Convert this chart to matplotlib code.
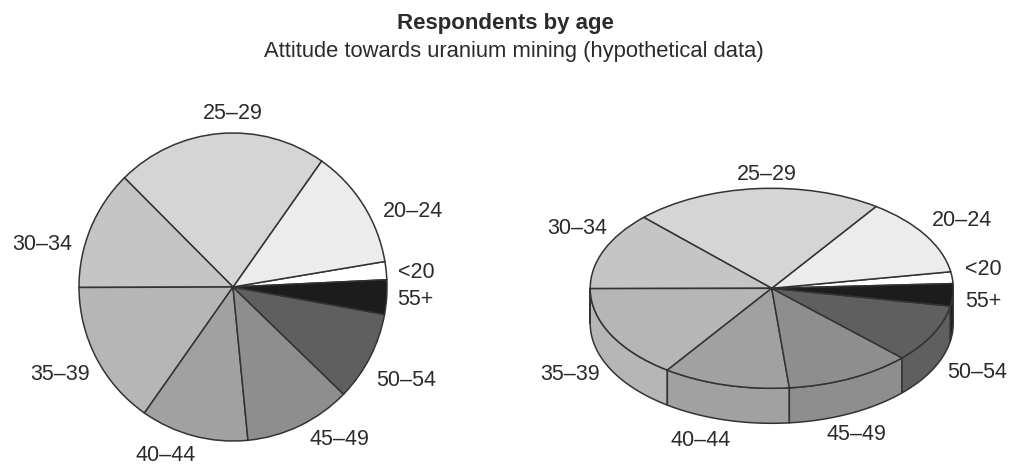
import numpy as np
import matplotlib
matplotlib.use("Agg")
import matplotlib.pyplot as plt
from matplotlib.patches import Polygon

# Data: share of respondents per age group (percent)
age_groups = ["<20", "20–24", "25–29", "30–34", "35–39", "40–44", "45–49", "50–54", "55+"]
shares = [1.9, 12.6, 22.2, 12.6, 15.2, 11.3, 11.2, 9.4, 3.6]
greys = ["#ffffff", "#ececec", "#d5d5d5", "#c5c5c5", "#b6b6b6",
         "#a1a1a1", "#8e8e8e", "#5f5f5f", "#1c1c1c"]

# hand nudges for the labels, in pixels (right, down)
nudge_flat = [(-3, 4), (7, 15), (14, -5), (-4, 22), (7, 9), (6, 5), (3, 0), (-8, 16), (-5, 1)]
nudge_3d = [(0, 10), (-4, 4), (12, 4), (15, -4), (0, 4), (-22, 0), (0, 3), (3, 3), (0, -13)]

plt.rcParams["font.family"] = ["Liberation Sans", "DejaVu Sans"]
TEXT = "#2b2b2b"
EDGE = "#333333"
START = 2.7
FS = 15.5

W, H = 1011, 468
fig = plt.figure(figsize=(W / 100, H / 100), dpi=100)
fig.patch.set_facecolor("white")

fig.text(0.5, 1 - 24 / H, "Respondents by age", ha="center", va="center",
         fontsize=16, fontweight="bold", color=TEXT)
fig.text(514 / W, 1 - 52 / H, "Attitude towards uranium mining (hypothetical data)",
         ha="center", va="center", fontsize=15.8, color=TEXT)


def px_axes(cx, cy, rx, ry, lim_x, lim_y):
    # axes placed so that one data unit equals rx / ry pixels around (cx, cy)
    w = 2 * lim_x * rx
    h = 2 * lim_y * ry
    return fig.add_axes([(cx - w / 2) / W, (H - cy - h / 2) / H, w / W, h / H])


def put_label(ax, x, y, lab, ha, nudge):
    ax.annotate(lab, xy=(x, y), xytext=(nudge[0] * 0.72, -nudge[1] * 0.72),
                textcoords="offset points", ha=ha, va="center",
                fontsize=FS, color=TEXT, annotation_clip=False)


# angles of each wedge
bounds = START + np.concatenate([[0], np.cumsum(shares)]) / sum(shares) * 360
mids = (bounds[:-1] + bounds[1:]) / 2

# ---- left: flat pie ----
ax1 = px_axes(233, 287, 154, 154, 1.4, 1.4)
ax1.pie(shares, colors=greys, startangle=START, counterclock=True,
        wedgeprops=dict(edgecolor=EDGE, linewidth=1.1))
for lab, m, nd in zip(age_groups, mids, nudge_flat):
    c, s = np.cos(np.radians(m)), np.sin(np.radians(m))
    ha = "center" if abs(c) < 0.15 else ("left" if c > 0 else "right")
    put_label(ax1, 1.1 * c, 1.1 * s, lab, ha, nd)
ax1.set_xlim(-1.4, 1.4)
ax1.set_ylim(-1.4, 1.4)
ax1.set_aspect("auto")
ax1.axis("off")

# ---- right: pie with depth ----
depth = 0.35
ax2 = px_axes(771.7, 288.3, 181.5, 100, 1.5, 1.7)
ax2.pie(shares, colors=greys, startangle=START, counterclock=True,
        wedgeprops=dict(edgecolor=EDGE, linewidth=1.1))
for i in range(len(shares)):
    lo, hi = max(bounds[i], 180), min(bounds[i + 1], 360)
    if hi <= lo:
        continue
    t = np.radians(np.linspace(lo, hi, 60))
    top = np.column_stack([np.cos(t), np.sin(t)])
    bot = np.column_stack([np.cos(t[::-1]), np.sin(t[::-1]) - depth])
    ax2.add_patch(Polygon(np.vstack([top, bot]), closed=True, facecolor=greys[i],
                          edgecolor=EDGE, linewidth=1.1, zorder=0.9))
for lab, m, nd in zip(age_groups, mids, nudge_3d):
    c, s = np.cos(np.radians(m)), np.sin(np.radians(m))
    ha = "center" if abs(c) < 0.5 else ("left" if c > 0 else "right")
    y = 0.18 + s if s >= 0 else 0.18 + 1.4 * s - depth
    put_label(ax2, 1.07 * c, y, lab, ha, nd)
ax2.set_xlim(-1.5, 1.5)
ax2.set_ylim(-1.7, 1.7)
ax2.set_aspect("auto")
ax2.axis("off")

fig.savefig("out.png", dpi=100, facecolor="white")
